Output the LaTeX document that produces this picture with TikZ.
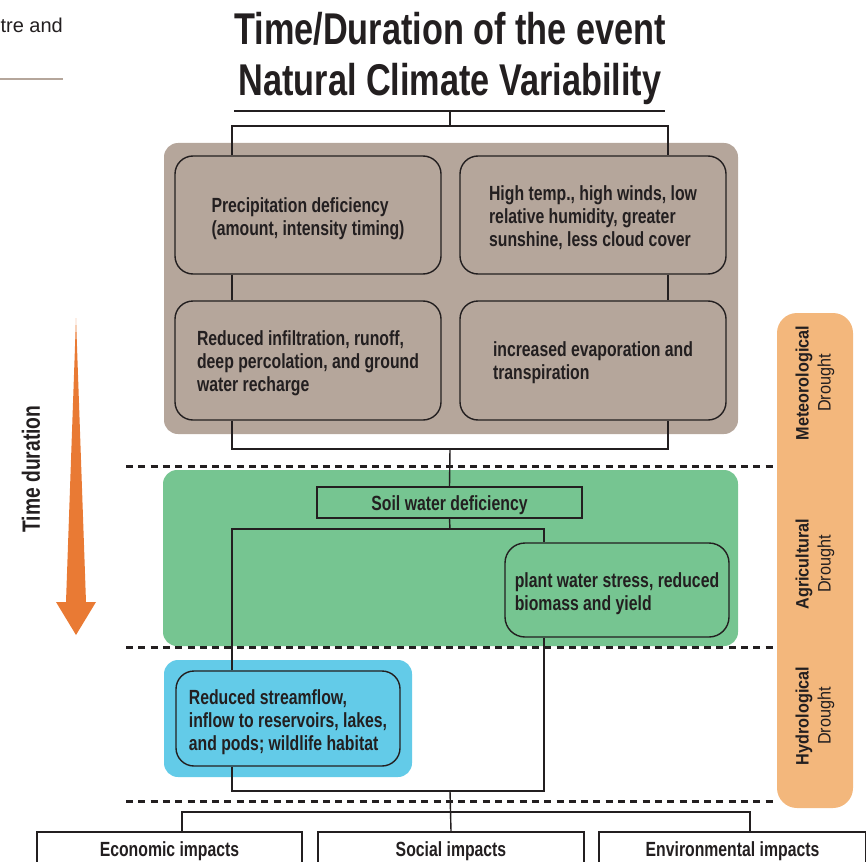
\documentclass[tikz,border=0pt]{standalone}
\usepackage{fontspec}
\setmainfont{Liberation Sans}[FakeStretch=0.77]
\newfontfamily\sidefont{Liberation Sans}[FakeStretch=0.9]
\newfontfamily\plainfont{Liberation Sans}
\definecolor{brownbg}{RGB}{181,166,155}
\definecolor{greenbg}{RGB}{118,197,145}
\definecolor{bluebg}{RGB}{99,203,232}
\definecolor{sidebar}{RGB}{243,183,124}
\definecolor{arrowc}{RGB}{233,122,52}
\definecolor{ink}{RGB}{35,31,32}
\begin{document}
\begin{tikzpicture}[x=1pt,y=-1pt,
  every node/.style={text=ink},
  conn/.style={draw=ink,line width=1.4pt},
  rbox/.style={draw=ink,line width=1.4pt,rounded corners=18pt,inner sep=0pt},
  btext/.style={inner sep=0pt,align=left,font=\bfseries\fontsize{20.5}{23}\selectfont},
  sbox/.style={draw=ink,line width=1.4pt,inner sep=0pt,align=center,
     font=\bfseries\fontsize{20.5}{23}\selectfont},
  sep/.style={draw=ink,line width=3pt,dash pattern=on 7pt off 5.3pt},
  sidelab/.style={rotate=90,align=center,font=\sidefont\fontsize{18}{22}\selectfont}
]
\useasboundingbox (0,0) rectangle (866,861);
\clip (0,0) rectangle (866,861);

% top-left fragment
\node[anchor=base east,inner sep=0pt,font=\plainfont\fontsize{20}{24}\selectfont] (frag) at (63,33) {tre and};
\draw[brownbg,line width=2pt] (0,79) -- (63,79);

% title
\node[anchor=base,inner sep=0pt,font=\bfseries\fontsize{44.5}{50}\selectfont] (title1) at (450,45) {Time/Duration of the event};
\node[anchor=base,inner sep=0pt,font=\bfseries\fontsize{44.5}{50}\selectfont] (title2) at (450,96) {Natural Climate Variability};
\draw[conn] (234,111) -- (665,111);

% backgrounds
\fill[brownbg,rounded corners=14pt] (164,143) rectangle (738,434);
\fill[greenbg,rounded corners=14pt] (163,470) rectangle (738,646);
\fill[bluebg,rounded corners=14pt] (164,660) rectangle (412,777);
\fill[sidebar,rounded corners=20pt] (777,313) rectangle (853,808);

% separators
\draw[sep] (126,466) -- (773,466);
\draw[sep] (126,647) -- (773,647);
\draw[sep] (126,801) -- (773,801);

% boxes
\node[rbox,minimum width=266pt,minimum height=118pt] (precip) at (308,215) {};
\node[btext] (precip-t) at ([yshift=-3.5pt]precip.center)
  {Precipitation deficiency\\(amount, intensity timing)};
\node[rbox,minimum width=266pt,minimum height=118pt] (hightemp) at (593,215) {};
\node[btext] (hightemp-t) at ([yshift=-2.5pt]hightemp.center)
  {High temp., high winds, low\\relative humidity, greater\\sunshine, less cloud cover};
\node[rbox,minimum width=266pt,minimum height=119pt] (infil) at (308,360.5) {};
\node[btext] (infil-t) at ([yshift=-3pt]infil.center)
  {Reduced infiltration, runoff,\\deep percolation, and ground\\water recharge};
\node[rbox,minimum width=266pt,minimum height=119pt] (evap) at (593,360.5) {};
\node[btext] (evap-t) at ([yshift=-2pt]evap.center)
  {increased evaporation and\\transpiration};
\node[sbox,minimum width=265pt,minimum height=31pt] (soil) at (449.5,502.5) {};
\node[btext] (soil-t) at ([yshift=-2.5pt]soil.center) {Soil water deficiency};
\node[rbox,rounded corners=20pt,minimum width=224pt,minimum height=94pt] (plant) at (617,590) {};
\node[btext] (plant-t) at ([yshift=-4pt]plant.center)
  {plant water stress, reduced\\biomass and yield};
\node[rbox,minimum width=224pt,minimum height=95pt] (stream) at (288,718.5) {};
\node[btext] (stream-t) at ([yshift=-3.5pt]stream.center)
  {Reduced streamflow,\\inflow to reservoirs, lakes,\\and pods; wildlife habitat};
\node[sbox,minimum width=265pt,minimum height=38pt] (econ) at (169.5,851) {Economic impacts};
\node[sbox,minimum width=266pt,minimum height=38pt] (social) at (451,851) {Social impacts};
\node[sbox,minimum width=267pt,minimum height=38pt] (env) at (732.5,851) {Environmental impacts};

% connectors
\coordinate (r0) at (450,111);
\coordinate (f1) at (450,126);
\coordinate (f2) at (450,449);
\coordinate (f3) at (450,529);
\coordinate (f4) at (450,791);
\coordinate (f5) at (450,812);
\draw[conn] (r0) -- (f1);
\draw[conn] ([xshift=-76pt]precip.north) |- (f1) -| ([xshift=75pt]hightemp.north);
\draw[conn] ([xshift=-76pt]precip.south) -- ([xshift=-76pt]infil.north);
\draw[conn] ([xshift=75pt]hightemp.south) -- ([xshift=75pt]evap.north);
\draw[conn] ([xshift=-76pt]infil.south) |- (f2) -| ([xshift=75pt]evap.south);
\draw[conn] (f2) -- (soil.north);
\draw[conn] (soil.south) -- (f3);
\draw[conn] ([xshift=-56pt]stream.north) |- (f3) -| ([xshift=-73pt]plant.north);
\draw[conn] ([xshift=-56pt]stream.south) |- (f4) -| ([xshift=-73pt]plant.south);
\draw[conn] (f4) -- (social.north);
\draw[conn] ([xshift=12.5pt]econ.north) |- (f5) -| ([xshift=17.5pt]env.north);

% side labels
\node[sidelab] (met) at (815,383) {\bfseries Meteorological\\Drought};
\node[sidelab] (agr) at (815,564) {\bfseries Agricultural\\Drought};
\node[sidelab] (hyd) at (815,716) {\bfseries Hydrological\\Drought};

% time arrow
\fill[arrowc] (76,318) -- (86,602) -- (96,602) -- (76,635) -- (56,602) -- (66,602) -- cycle;
\node[rotate=90,font=\bfseries\fontsize{25}{28}\selectfont] (tdur) at (31,469) {Time duration};
\end{tikzpicture}
\end{document}
